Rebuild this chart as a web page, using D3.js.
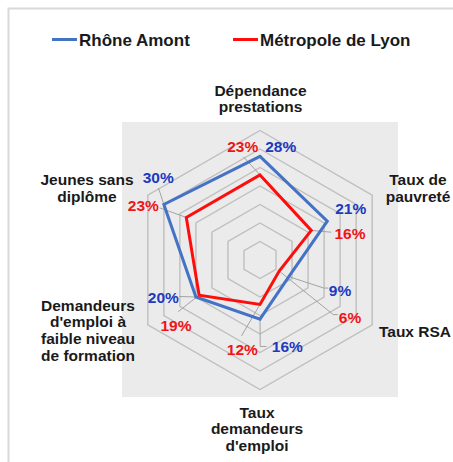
<!DOCTYPE html>
<html>
<head>
<meta charset="utf-8">
<script src="https://cdn.jsdelivr.net/npm/d3@7"></script>
<style>
  html, body { margin: 0; padding: 0; background: #ffffff; }
  svg { display: block; font-family: "Liberation Sans", Arial, sans-serif; font-weight: bold; }
</style>
</head>
<body>
<svg id="chart" width="453" height="462"></svg>
<script>
// ---------- data ----------
const axisLabels = [
  ["Dépendance", "prestations"],
  ["Taux de", "pauvreté"],
  ["Taux RSA"],
  ["Taux", "demandeurs", "d'emploi"],
  ["Demandeurs", "d'emploi à", "faible niveau", "de formation"],
  ["Jeunes sans", "diplôme"]
];
const seriesNames = ["Rhône Amont", "Métropole de Lyon"];
const rhoneAmont = [28, 21, 9, 16, 20, 30];
const metropoleLyon = [23, 16, 6, 12, 19, 23];
const ringTicks = [5, 10, 15, 20, 25, 30, 35];

// ---------- layout / style ----------
const W = 453, H = 462;
const cx = 260, cy = 260, R = 129.5;
const colors = ["#4472c4", "#ff0d0d"];
const labelColors = ["#2039c0", "#f01418"];

const svg = d3.select("#chart");

// frame
svg.append("path")
  .attr("d", `M${W},8.5 H8.5 V${H}`)
  .attr("fill", "none").attr("stroke", "#d9d9d9").attr("stroke-width", 2);

// plot area
svg.append("rect").attr("x", 122).attr("y", 122).attr("width", 276).attr("height", 275)
  .attr("fill", "#ebebeb");

const r = d3.scaleLinear().domain([0, 35]).range([0, R]);
const n = axisLabels.length;
const angle = i => i * 2 * Math.PI / n; // 0 = top, clockwise
const pt = (i, v) => [cx + r(v) * Math.sin(angle(i)), cy - r(v) * Math.cos(angle(i))];

// rings
const ringLine = d3.line().curve(d3.curveLinearClosed);
svg.append("g").selectAll("path").data(ringTicks).join("path")
  .attr("d", t => ringLine(d3.range(n).map(i => pt(i, t))))
  .attr("fill", "none").attr("stroke", "#bfbfbf").attr("stroke-width", 1.4);

// axis labels
const axisPos = [[260.5, 95.5], [418, 185], [415, 337], [257, 417.5], [88, 310.5], [87, 185]];
const lineH = 16.8;
const axG = svg.append("g").attr("font-size", "15.5px").attr("fill", "#1a1a1a").attr("text-anchor", "middle");
axisLabels.forEach((lines, i) => {
  const t = axG.append("text").attr("x", axisPos[i][0]).attr("y", axisPos[i][1]);
  lines.forEach((l, k) => t.append("tspan").attr("x", axisPos[i][0]).attr("dy", k === 0 ? 0 : lineH).text(l));
});

// series
const allSeries = [rhoneAmont, metropoleLyon];

// label offsets relative to vertex, leader starts (relative), elbows (relative)
const labelLayout = [
  [ // Rhône Amont
    {d: [20.7, -9.7]},
    {d: [23.4, -12.9]},
    {d: [51.2, 13.4], lead: [[39.5, 11.4], [35.0, 11.4]]},
    {d: [27.3, 27.5], lead: [[6.5, 27.3], [0.2, 27.3]]},
    {d: [-32.6, 0.3], lead: [[-16.5, -0.5]]},
    {d: [-5.6, -27.2], lead: [[-5.4, -16.5]]}
  ],
  [ // Métropole de Lyon
    {d: [-17.3, -28.2], lead: [[-16.5, -18]]},
    {d: [38.7, 2.9], lead: [[20, 1.8]]},
    {d: [70.8, 46.2], lead: [[58.5, 43.5], [54.0, 43.5]]},
    {d: [-17.7, 44.9], lead: [[-18.5, 31.5]]},
    {d: [-23.1, 30.5], lead: [[-21, 16.5]]},
    {d: [-43, -12.4], lead: [[-26.5, -9.5]]}
  ]
];

// leader lines
const leadG = svg.append("g").attr("fill", "none").attr("stroke", "#a3a3a3").attr("stroke-width", 1);
allSeries.forEach((vals, s) => {
  vals.forEach((v, i) => {
    const L = labelLayout[s][i].lead;
    if (!L) return;
    const [vx, vy] = pt(i, v);
    const pts = L.map(p => [vx + p[0], vy + p[1]]).concat([[vx, vy]]);
    leadG.append("path").attr("d", d3.line()(pts));
  });
});

// polygons
const dataLine = d3.line().curve(d3.curveLinearClosed);
allSeries.forEach((vals, s) => {
  svg.append("path")
    .attr("d", dataLine(vals.map((v, i) => pt(i, v))))
    .attr("fill", "none").attr("stroke", colors[s]).attr("stroke-width", 3).attr("stroke-linejoin", "miter");
});

// data labels
const lblG = svg.append("g").attr("font-size", "15.5px").attr("text-anchor", "middle");
allSeries.forEach((vals, s) => {
  vals.forEach((v, i) => {
    const [vx, vy] = pt(i, v);
    const d = labelLayout[s][i].d;
    lblG.append("text").attr("x", vx + d[0]).attr("y", vy + d[1]).attr("dy", "0.36em")
      .attr("fill", labelColors[s]).text(v + "%");
  });
});

// legend
const legX = [52, 233];
const legG = svg.append("g").attr("font-size", "17px").attr("fill", "#1a1a1a");
seriesNames.forEach((name, s) => {
  legG.append("line").attr("x1", legX[s]).attr("x2", legX[s] + 25).attr("y1", 39.5).attr("y2", 39.5)
    .attr("stroke", colors[s]).attr("stroke-width", 3);
  legG.append("text").attr("x", legX[s] + 27).attr("y", 45.5).text(name);
});
</script>
</body>
</html>
